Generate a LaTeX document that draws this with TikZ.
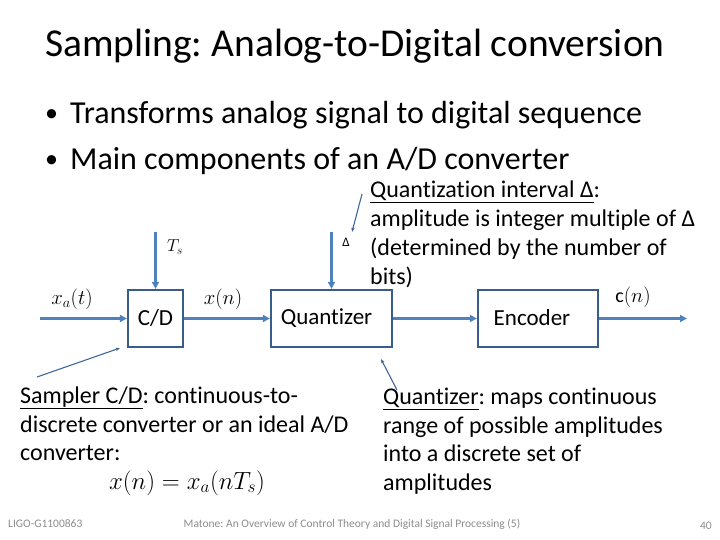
\documentclass[tikz,border=0pt]{standalone}
\usepackage{fontspec}
\setmainfont{Carlito}[Ligatures=NoCommon]
\usepackage{xcolor}
\usetikzlibrary{arrows.meta,positioning}
\definecolor{sigblue}{HTML}{4F81BD}
\definecolor{boxblue}{HTML}{385D8A}
\definecolor{footgray}{HTML}{8C8C8C}
\newcommand{\fsz}[1]{\fontsize{#1}{1.3\dimexpr#1pt\relax}\selectfont}
\newcommand{\itembullet}{\makebox[25pt][l]{\fontsize{26}{26}\selectfont\raisebox{2.5pt}{\textbullet}}}
\frenchspacing

\begin{document}
\begin{tikzpicture}[x=1pt,y=-1pt,
    blockbox/.style={draw=boxblue, line width=2.2pt, minimum height=57pt, inner sep=0pt, font=\fsz{23}},
    signal/.style={-{Triangle[length=7pt,width=7pt]}, draw=sigblue, line width=2.2pt},
    callout/.style={-{Triangle[length=4pt,width=3pt]}, draw=sigblue!80!black, line width=1.1pt},
    siglabel/.style={inner sep=0pt, font=\fsz{20}},
    bodytext/.style={anchor=north west, inner sep=0pt, align=left, font=\fontsize{24}{28.8}\selectfont},
    footer/.style={text=footgray, font=\fsz{11.5}, inner sep=0pt}]
  \useasboundingbox (0,0) rectangle (720,540);

  % title and bullets
  \node[anchor=base west, inner sep=0pt, font=\fsz{39.5}] (title) at (45,57) {Sampling: Analog-to-Digital conversion};
  \node[anchor=base west, inner sep=0pt, font=\fsz{32}] (item1) at (45,124) {\itembullet Transforms analog signal to digital sequence};
  \node[anchor=base west, inner sep=0pt, font=\fsz{32}] (item2) at (45,170) {\itembullet Main components of an A/D converter};

  % the three blocks
  \node[blockbox, minimum width=55pt] (cd) at (155.5,318.5) {C/D};
  \node[blockbox, minimum width=121pt] (quant) at (331.5,318.5) {\raisebox{-2pt}{Quantizer}\kern10pt};
  \node[blockbox, minimum width=120pt] (enc) at (538,318.5) {\raisebox{2pt}{Encoder}\kern12pt};

  \coordinate (sig in) at (40,318.5);
  \coordinate (sig out) at (687,318.5);
  \coordinate (ts) at (155.5,232);
  \coordinate (dl) at (331.5,232);

  \draw[signal] (sig in) -- (cd);
  \draw[signal] (cd) -- (quant);
  \draw[signal] (quant) -- (enc);
  \draw[signal] (enc) -- (sig out);
  \draw[signal] (ts) -- (cd);
  \draw[signal] (dl) -- (quant);

  \node[siglabel] (xa) at (72,299) {$x_a(t)$};
  \node[siglabel] (xn) at (223,299) {$x(n)$};
  \node[siglabel] (cn) at (633,297) {$\mathrm{c}(n)$};
  \node[siglabel, font=\fsz{17}] (tslabel) at (175,247) {$T_s$};
  \node[siglabel, font=\fsz{13}] (dlabel) at (346,242) {Δ};

  % annotations
  \node[bodytext] (qint) at (370,181) {\underline{Quantization interval Δ}:\\ amplitude is integer multiple of Δ\\ (determined by the number of\\ bits)};
  \node[bodytext] (samp) at (20,386.5) {\underline{Sampler C/D}: continuous-to-\\ discrete converter or an ideal A/D\\ converter:};
  \node[anchor=base, inner sep=0pt, font=\fsz{25}] (eq) at (187,489) {$x(n)=x_a(nT_s)$};
  \node[bodytext] (qtext) at (383,387.5) {\underline{Quantizer}: maps continuous\\ range of possible amplitudes\\ into a discrete set of\\ amplitudes};

  \coordinate (qint tail) at (362,194);
  \coordinate (qint tip) at (352,232);
  \coordinate (samp tail) at (37,377);
  \coordinate (samp tip) at (120,348);
  \coordinate (qtext tail) at (397,390);
  \coordinate (qtext tip) at (381,359);

  \draw[callout] (qint tail) -- (qint tip);
  \draw[callout] (samp tail) -- (samp tip);
  \draw[callout] (qtext tail) -- (qtext tip);

  % footer
  \node[footer, anchor=base west] (ligo) at (8,527) {LIGO-G1100863};
  \node[footer, anchor=base] (cite) at (352,527) {Matone: An Overview of Control Theory and Digital Signal Processing (5)};
  \node[footer, anchor=base east] (page) at (712,529) {40};
\end{tikzpicture}
\end{document}
